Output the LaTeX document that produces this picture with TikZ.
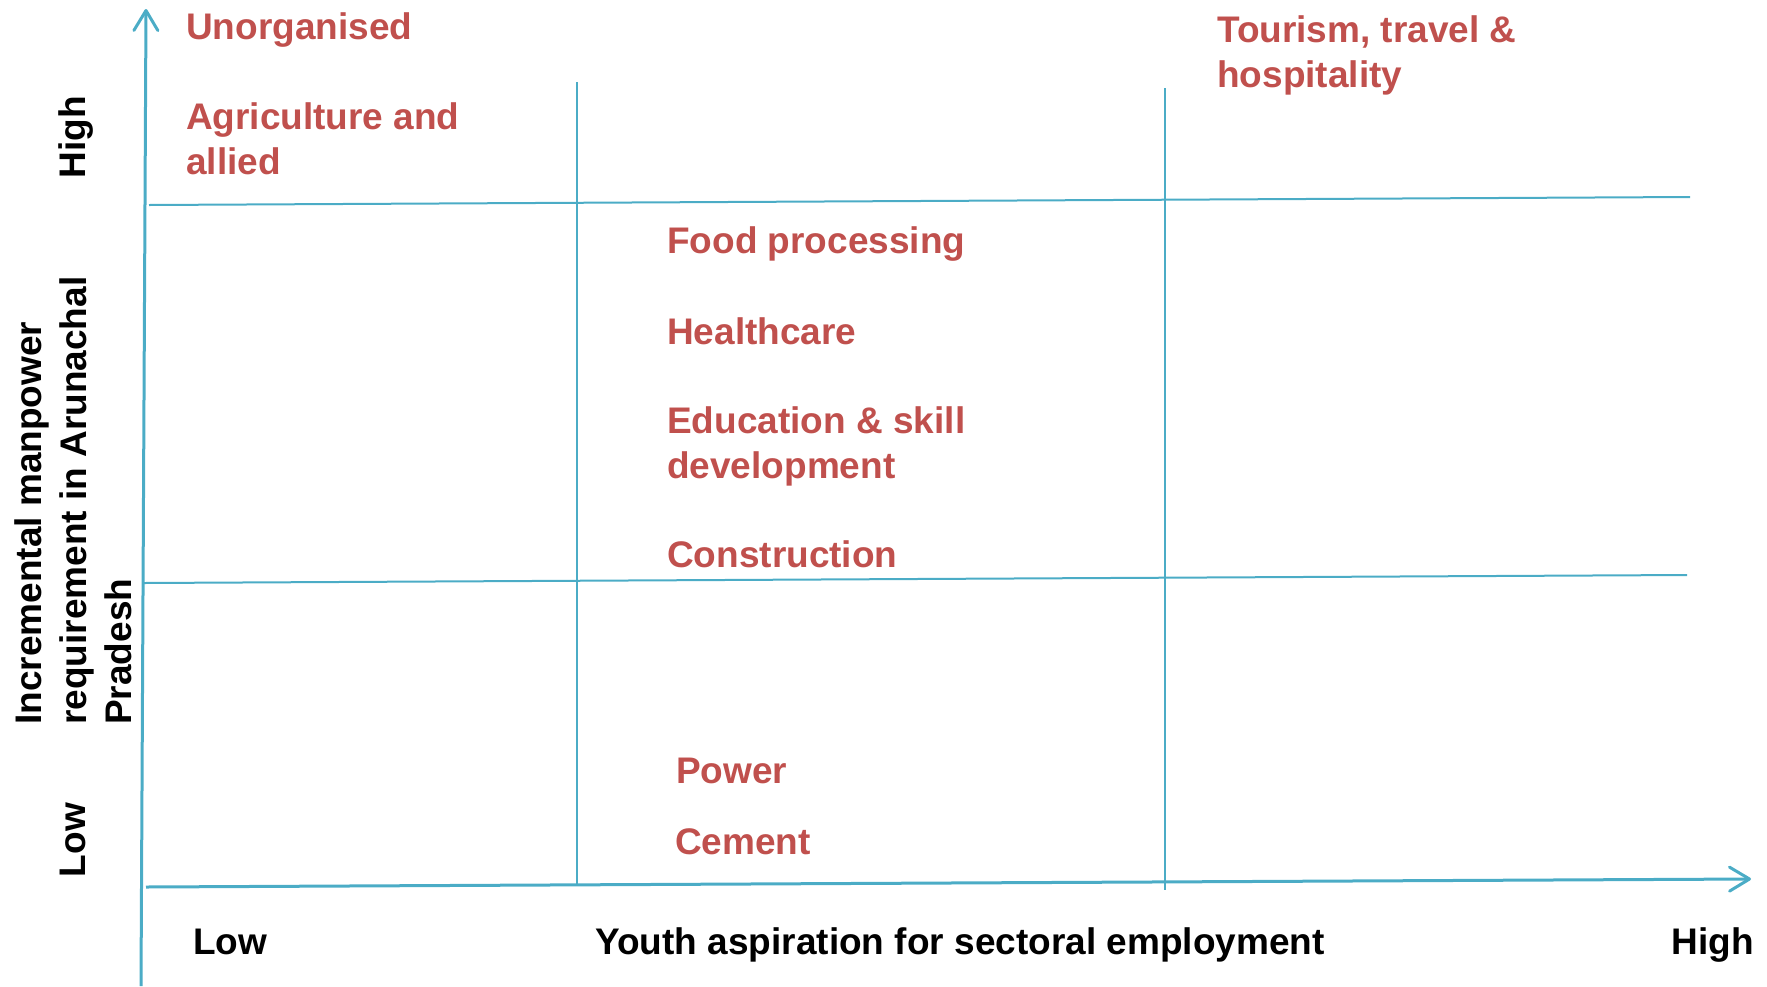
\documentclass[tikz,border=0pt]{standalone}
\usepackage{fontspec}
\setmainfont{Liberation Sans}
\usetikzlibrary{arrows.meta}
\definecolor{axisblue}{HTML}{4BACC6}
\definecolor{sectred}{HTML}{C0504D}
\tikzset{
  axisline/.style={draw=axisblue, line width=3pt, -{Straight Barb[length=20pt,width=24pt,line width=3pt,round]}},
  gridline/.style={draw=axisblue, line width=2pt},
  sector/.style={text=sectred, font=\fontsize{37}{45}\selectfont\bfseries, anchor=west, inner sep=0pt, align=left},
  axislabel/.style={text=black, font=\fontsize{37}{45}\selectfont\bfseries, inner sep=0pt, align=left}
}
\begin{document}
\begin{tikzpicture}[x=1pt,y=-1pt]
\useasboundingbox (0,0) rectangle (1767,986);
% axes
\coordinate (yb) at (141,986);
\coordinate (yt) at (146,9);
\coordinate (xl) at (146,887);
\coordinate (xr) at (1751,879);
\draw[axisline] (yb) -- (yt);
\draw[axisline] (xl) -- (xr);
% grid
\coordinate (h1a) at (149,205);
\coordinate (h1b) at (1690,197);
\coordinate (h2a) at (144,583);
\coordinate (h2b) at (1687,575);
\coordinate (v1a) at (577,82);
\coordinate (v1b) at (577,885);
\coordinate (v2a) at (1165,88);
\coordinate (v2b) at (1165,890);
\draw[gridline] (h1a) -- (h1b);
\draw[gridline] (h2a) -- (h2b);
\draw[gridline] (v1a) -- (v1b);
\draw[gridline] (v2a) -- (v2b);
% sectors
\node[sector] (unorg) at (186,30) {Unorganised};
\node[sector] (agri) at (186,139) {Agriculture and\\allied};
\node[sector] (tour) at (1217,55) {Tourism, travel \&\\hospitality};
\node[sector] (food) at (667,244) {Food processing};
\node[sector] (health) at (667,331) {Healthcare};
\node[sector] (edu) at (667,446) {Education \& skill\\development};
\node[sector] (cons) at (667,554) {Construction};
\node[sector] (power) at (676,771) {Power};
\node[sector] (cement) at (675,842) {Cement};
% axis labels
\node[axislabel] (xlow) at (230,942) {Low};
\node[axislabel] (xtitle) at (960,945) {Youth aspiration for sectoral employment};
\node[axislabel, anchor=east] (xhigh) at (1754,945) {High};
\node[axislabel, rotate=90] (yhigh) at (76,137) {High};
\node[axislabel, rotate=90] (ylow) at (73,840) {Low};
\node[axislabel, rotate=90, anchor=north west] (ytitle) at (14,725) {Incremental manpower\\requirement in Arunachal\\Pradesh};
\end{tikzpicture}
\end{document}
